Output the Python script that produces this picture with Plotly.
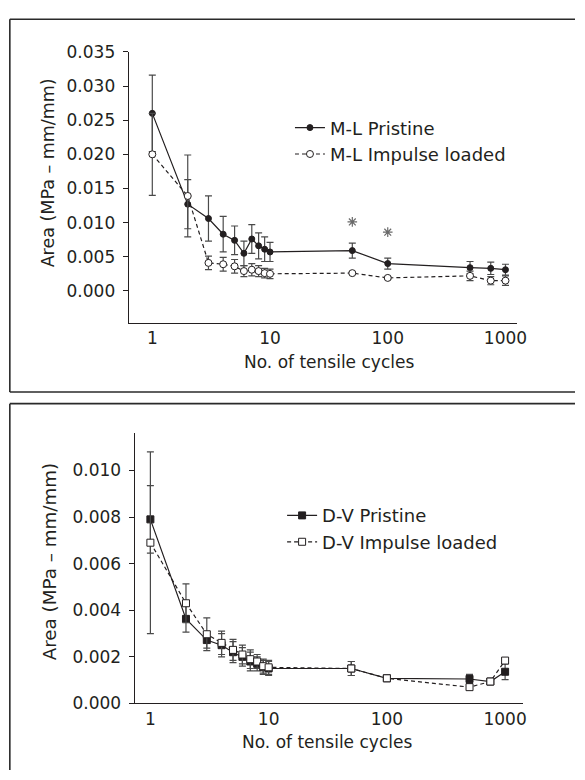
import numpy as np
import plotly.graph_objects as go

# ---------------- data ----------------
cycles = [1, 2, 3, 4, 5, 6, 7, 8, 9, 10, 50, 100, 500, 750, 1000]

ml_pristine = [0.0260, 0.0127, 0.0106, 0.0083, 0.0074, 0.0055, 0.0076, 0.0066, 0.0061, 0.0057,
               0.0059, 0.0040, 0.0034, 0.0033, 0.0031]
ml_pristine_err = [0.0056, 0.0036, 0.0033, 0.0026, 0.0021, 0.0018, 0.0021, 0.0019, 0.0018, 0.0014,
                   0.0011, 0.0008, 0.0009, 0.0009, 0.0008]
ml_impulse = [0.0200, 0.0139, 0.0041, 0.0039, 0.0036, 0.0029, 0.0031, 0.0029, 0.0026, 0.0025,
              0.0026, 0.0019, 0.0022, 0.0015, 0.0015]
ml_impulse_err = [0.0060, 0.0060, 0.0010, 0.0010, 0.0010, 0.0008, 0.0009, 0.0008, 0.0007, 0.0007,
                  0.0002, 0.0002, 0.0007, 0.0006, 0.0007]

dv_pristine = [0.0079, 0.00363, 0.00272, 0.0025, 0.0022, 0.0020, 0.0018, 0.0017, 0.00155, 0.0015,
               0.0015, 0.00108, 0.00105, 0.00094, 0.00136]
dv_pristine_err = [0.00145, 0.00057, 0.00035, 0.0005, 0.00045, 0.0004, 0.0004, 0.0003, 0.0003, 0.0003,
                   0.0003, 0.0001, 0.0002, 0.0001, 0.00034]
dv_impulse = [0.0069, 0.0043, 0.00297, 0.0026, 0.0023, 0.0021, 0.0019, 0.0018, 0.0016, 0.00155,
              0.0015, 0.00108, 0.0007, 0.00094, 0.00184]
dv_impulse_err = [0.0039, 0.00083, 0.0007, 0.0005, 0.00045, 0.0004, 0.0004, 0.0003, 0.0003, 0.0003,
                  0.0003, 0.0001, 0.0001, 0.0001, 0.0001]

sig_x = [50, 100]
sig_y = [0.0101, 0.0086]

ml_yticks = [0.000, 0.005, 0.010, 0.015, 0.020, 0.025, 0.030, 0.035]
dv_yticks = [0.000, 0.002, 0.004, 0.006, 0.008, 0.010]
x_ticks = [1, 10, 100, 1000]

# ---------------- style ----------------
INK = "#231f20"
ERR = "#4a4a4a"
FONT = "DejaVu Sans"
W, H = 585, 780


def px(x):
    return x / W


def py(y):
    return 1 - y / H


fig = go.Figure()

def add_series(x, y, err, name, xa, ya, symbol, fill, dash, size, legend):
    fig.add_trace(go.Scatter(
        x=x, y=y, name=name, xaxis=xa, yaxis=ya, legend=legend,
        mode="lines+markers",
        line=dict(color=INK, width=1.2, dash=dash),
        marker=dict(symbol=symbol, size=size, color=fill, line=dict(color=INK, width=1)),
        error_y=dict(type="data", array=err, visible=True, color=ERR, thickness=1.2, width=3.5),
    ))

add_series(cycles, ml_pristine, ml_pristine_err, "M-L Pristine", "x", "y", "circle", INK, "solid", 6, "legend")
add_series(cycles, ml_impulse, ml_impulse_err, "M-L Impulse loaded", "x", "y", "circle", "white", "4px,3px", 7, "legend")
add_series(cycles, dv_pristine, dv_pristine_err, "D-V Pristine", "x2", "y2", "square", INK, "solid", 7, "legend2")
add_series(cycles, dv_impulse, dv_impulse_err, "D-V Impulse loaded", "x2", "y2", "square", "white", "4px,3px", 7, "legend2")

fig.add_trace(go.Scatter(
    x=sig_x, y=sig_y, xaxis="x", yaxis="y", mode="markers", showlegend=False,
    marker=dict(symbol="asterisk-open", size=8, color="#6a6a6a", line=dict(color="#6a6a6a", width=1.2)),
))

axis_common = dict(showline=True, linecolor=INK, linewidth=1.3, showgrid=False, zeroline=False,
                   tickfont=dict(family=FONT, size=17, color=INK), mirror=False)

fig.update_layout(
    autosize=True,
    margin=dict(l=0, r=0, t=0, b=0),
    paper_bgcolor="white", plot_bgcolor="white",
    font=dict(family=FONT, color=INK),
    xaxis=dict(type="log", domain=[px(131), px(526)], range=[-0.2, 3.098], anchor="y",
               tickvals=x_ticks, ticktext=[str(v) for v in x_ticks], ticks="", ticklen=0, **axis_common),
    yaxis=dict(domain=[py(321), py(43)], range=[-0.00467, 0.035], anchor="x",
               tickvals=ml_yticks, tickformat=".3f", ticks="outside", ticklen=5, tickcolor=INK,
               tickwidth=1.2, ticklabelstandoff=4, **axis_common),
    xaxis2=dict(type="log", domain=[px(137), px(531.7)], range=[-0.133, 3.148], anchor="y2",
                tickvals=x_ticks, ticktext=[str(v) for v in x_ticks], ticks="", ticklen=0, **axis_common),
    yaxis2=dict(domain=[py(711.7), py(434.3)], range=[0, 0.0116], anchor="x2",
                tickvals=dv_yticks, tickformat=".3f", ticks="outside", ticklen=5, tickcolor=INK,
                tickwidth=1.2, ticklabelstandoff=4, **axis_common),
    legend=dict(x=px(295), y=py(102), xanchor="left", yanchor="top", bgcolor="rgba(0,0,0,0)",
                font=dict(family=FONT, size=18, color=INK), borderwidth=0),
    legend2=dict(x=px(287), y=py(500), xanchor="left", yanchor="top", bgcolor="rgba(0,0,0,0)",
                 font=dict(family=FONT, size=18, color=INK), borderwidth=0),
    showlegend=True,
)

annos = [
    dict(text="Area (MPa – mm/mm)", x=px(49), y=py(167.5), textangle=-90, size=17.5),
    dict(text="No. of tensile cycles", x=px(334.5), y=py(361.7), textangle=0, size=17),
    dict(text="Area (MPa – mm/mm)", x=px(50), y=py(566.7), textangle=-90, size=18.3),
    dict(text="No. of tensile cycles", x=px(332.5), y=py(751), textangle=0, size=17),
]
for a in annos:
    fig.add_annotation(text=a["text"], x=a["x"], y=a["y"], xref="paper", yref="paper",
                       xanchor="center", yanchor="middle", textangle=a["textangle"],
                       showarrow=False, font=dict(family=FONT, size=a["size"], color=INK))

# panel frames (right/bottom edges fall outside the picture)
frame = dict(color="#2a2a2a", width=1.6)
for (x0, y0, x1, y1) in [
    (10, 9.5, 585, 9.5), (10, 9.5, 10, 392), (10, 392, 585, 392),
    (10, 404, 585, 404), (10, 404, 10, 780),
]:
    fig.add_shape(type="line", xref="paper", yref="paper",
                  x0=px(x0), y0=py(y0), x1=px(x1), y1=py(y1), line=frame)

fig.write_html(
    "out.html",
    config={"displayModeBar": False, "responsive": True},
    default_width="100vw", default_height="100vh",
    post_script=(
        "document.documentElement.style.margin='0';document.documentElement.style.overflow='hidden';"
        "document.body.style.margin='0';document.body.style.padding='0';document.body.style.overflow='hidden';"
        "Plotly.Plots.resize(document.getElementById('{plot_id}'));"
    ),
)
